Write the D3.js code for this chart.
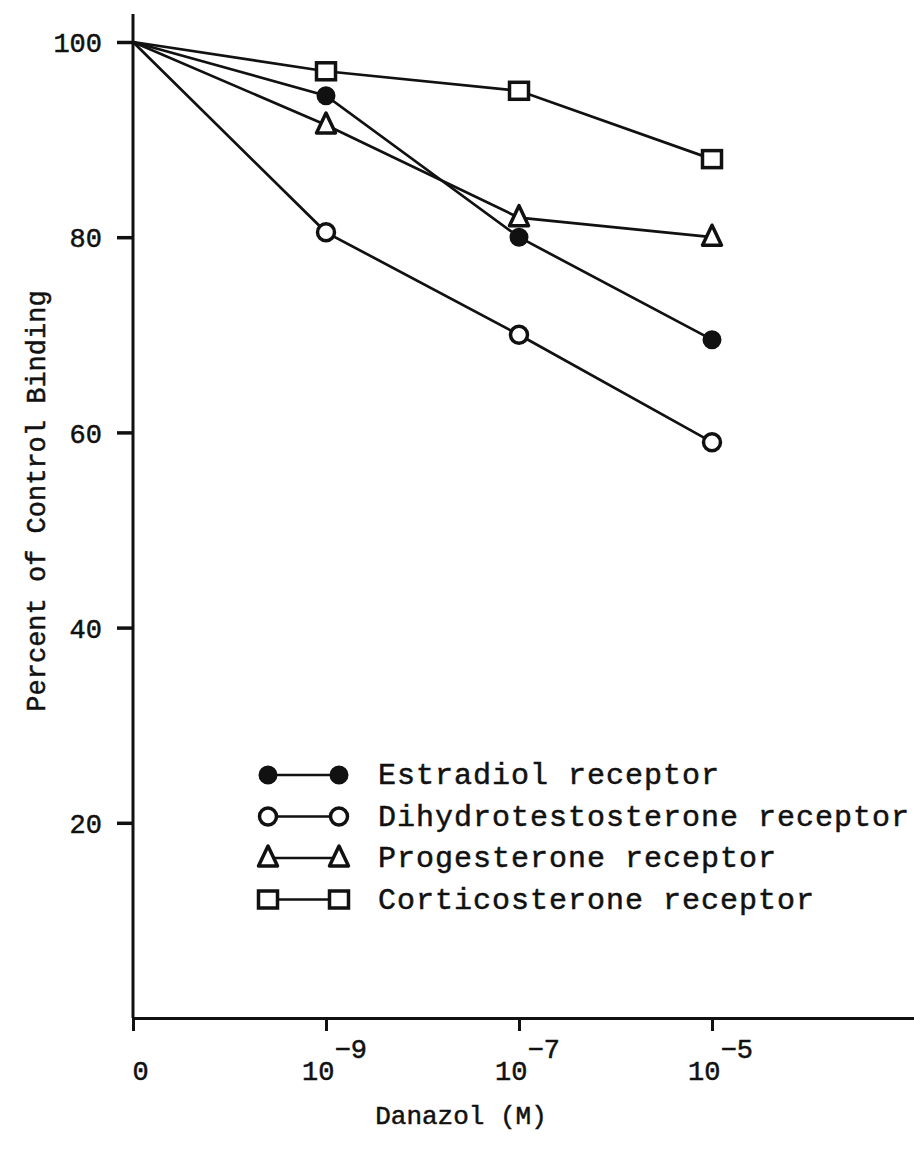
<!DOCTYPE html>
<html>
<head>
<meta charset="utf-8">
<script src="https://cdn.jsdelivr.net/npm/d3@7"></script>
<style>
  body { margin: 0; background: #fff; }
  svg { display: block; }
  text { font-family: "Liberation Mono", "DejaVu Sans Mono", monospace; fill: #111; stroke: #111; stroke-width: 0.5px; }
</style>
</head>
<body>
<div id="chart"></div>
<script>
// dose levels on the x axis (0, then powers of ten)
const doses = [0, 1, 2, 3];
const doseExponents = [null, "\u22129", "\u22127", "\u22125"];

// percent of control binding, one array per receptor
const estradiol = [100, 94.5, 80, 69.5];
const dihydrotestosterone = [100, 80.5, 70, 59];
const progesterone = [100, 91.5, 82, 80];
const corticosterone = [100, 97, 95, 88];

const yTicks = [20, 40, 60, 80, 100];

const series = [
  { name: "Estradiol receptor", values: estradiol, symbol: "filled" },
  { name: "Dihydrotestosterone receptor", values: dihydrotestosterone, symbol: "circle" },
  { name: "Progesterone receptor", values: progesterone, symbol: "triangle" },
  { name: "Corticosterone receptor", values: corticosterone, symbol: "square" }
];

const width = 914, height = 1152;

const svg = d3.select("#chart")
  .append("svg")
  .attr("width", width)
  .attr("height", height);

// scales (x axis runs past the last dose to the right edge)
const x = d3.scaleLinear().domain([0, 4.1]).range([133, 133 + 4.1 * 193]);
const y = d3.scaleLinear().domain([0, 100]).range([1018, 42]);

// y axis
const yAxis = svg.append("g")
  .attr("transform", `translate(${x(0)},0)`)
  .call(d3.axisLeft(y).tickValues(yTicks).tickSize(16).tickPadding(15).tickSizeOuter(0));
yAxis.select(".domain").remove();
yAxis.append("line")
  .attr("x1", 0).attr("x2", 0)
  .attr("y1", 14).attr("y2", y(0))
  .attr("stroke", "#111").attr("stroke-width", 3);
yAxis.selectAll(".tick line").attr("stroke", "#111").attr("stroke-width", 3.5);
yAxis.selectAll(".tick text")
  .attr("font-size", "27px")
  .attr("font-family", "Liberation Mono")
  .attr("dy", "0.36em")
  .attr("fill", "#111");

// x axis
const xAxis = svg.append("g")
  .attr("transform", `translate(0,${y(0)})`)
  .call(d3.axisBottom(x).tickValues(doses).tickSize(13).tickFormat("").tickSizeOuter(0));
xAxis.select(".domain").attr("stroke", "#111").attr("stroke-width", 3);
xAxis.selectAll(".tick line").attr("stroke", "#111").attr("stroke-width", 3);

const xLabels = xAxis.selectAll(".tick")
  .append("text")
  .attr("y", 62)
  .attr("font-size", "27px")
  .attr("font-family", "Liberation Mono")
  .attr("fill", "#111")
  .attr("text-anchor", "middle");
xLabels.each(function (d, i) {
  const t = d3.select(this);
  if (doseExponents[i] === null) {
    t.attr("x", 7).text("0");
  } else {
    t.attr("x", 8);
    t.append("tspan").text("10");
    t.append("tspan").attr("dy", -22).text(doseExponents[i]);
  }
});

// axis titles
svg.append("text")
  .attr("x", 461).attr("y", 1124)
  .attr("text-anchor", "middle")
  .attr("font-size", "26px")
  .text("Danazol (M)");

svg.append("text")
  .attr("transform", "translate(45,501) rotate(-90)")
  .attr("text-anchor", "middle")
  .attr("font-size", "27px")
  .text("Percent of Control Binding");

// symbols
function drawSymbol(g, kind, cx, cy) {
  if (kind === "filled") {
    g.append("circle").attr("cx", cx).attr("cy", cy).attr("r", 8.5)
      .attr("fill", "#111").attr("stroke", "#111").attr("stroke-width", 2);
  } else if (kind === "circle") {
    g.append("circle").attr("cx", cx).attr("cy", cy).attr("r", 8.5)
      .attr("fill", "#fff").attr("stroke", "#111").attr("stroke-width", 3.5);
  } else if (kind === "triangle") {
    g.append("path")
      .attr("d", `M${cx},${cy - 12}L${cx + 9.5},${cy + 8}L${cx - 9.5},${cy + 8}Z`)
      .attr("fill", "#fff").attr("stroke", "#111").attr("stroke-width", 3.5)
      .attr("stroke-linejoin", "round");
  } else {
    g.append("rect").attr("x", cx - 9.5).attr("y", cy - 8.5).attr("width", 19).attr("height", 17)
      .attr("fill", "#fff").attr("stroke", "#111").attr("stroke-width", 3.5);
  }
}

const line = d3.line()
  .x((d, i) => x(doses[i]))
  .y(d => y(d));

const plot = svg.append("g");
series.forEach(s => {
  plot.append("path")
    .datum(s.values)
    .attr("d", line)
    .attr("fill", "none")
    .attr("stroke", "#111")
    .attr("stroke-width", 2.7);
});
series.forEach(s => {
  const g = plot.append("g");
  s.values.forEach((v, i) => {
    if (i === 0) return;
    drawSymbol(g, s.symbol, x(doses[i]), y(v));
  });
});

// legend
const legend = svg.append("g");
series.forEach((s, i) => {
  const ly = 775 + i * 41.5;
  const g = legend.append("g");
  g.append("line")
    .attr("x1", 268).attr("x2", 339)
    .attr("y1", ly).attr("y2", ly)
    .attr("stroke", "#111").attr("stroke-width", 2.7);
  drawSymbol(g, s.symbol, 268, ly);
  drawSymbol(g, s.symbol, 339, ly);
  g.append("text")
    .attr("x", 378).attr("y", ly + 9)
    .attr("font-size", "30px")
    .attr("letter-spacing", "1px")
    .text(s.name);
});
</script>
</body>
</html>
